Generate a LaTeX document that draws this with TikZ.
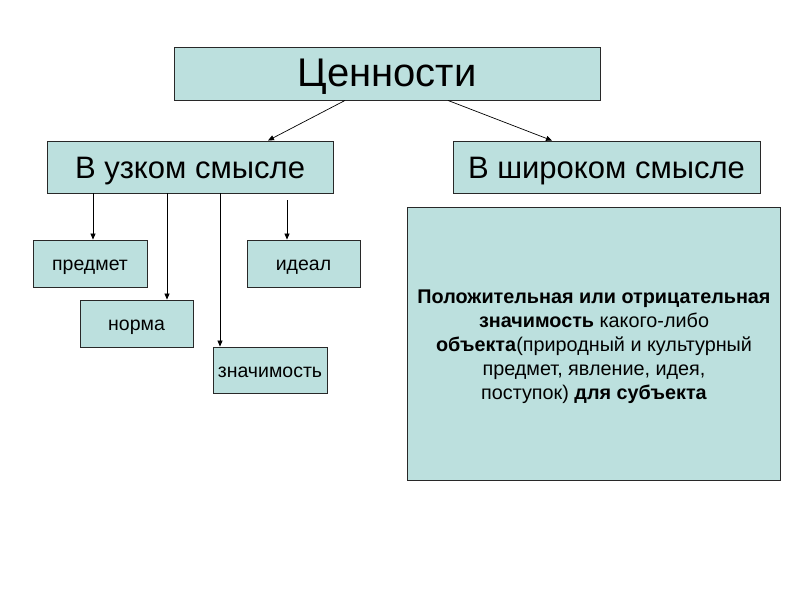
\documentclass[tikz,border=0pt]{standalone}
\usepackage{fontspec}
\setmainfont{Liberation Sans}
\usetikzlibrary{arrows.meta}
\definecolor{boxfill}{RGB}{188,224,222}
\definecolor{boxline}{RGB}{40,40,40}
\tikzset{
  box/.style={draw=boxline, line width=0.9pt, fill=boxfill, rectangle, inner sep=0pt, text depth=0pt},
  big/.style={font=\fontsize{40}{42}\selectfont, text height=26pt},
  mid/.style={font=\fontsize{31}{33}\selectfont, text height=22.2pt},
  small/.style={font=\fontsize{19.5}{21}\selectfont, text height=14pt},
  arr/.style={draw=black, line width=0.7pt, -{Triangle[length=6pt,width=5pt]}},
}
\begin{document}
\begin{tikzpicture}[x=1pt,y=-1pt]
\useasboundingbox[fill=white] (0,0) rectangle (800,600);
\node[box, big, minimum width=426pt, minimum height=53pt] (top) at (387,73.5) {Ценности};
\node[box, mid, minimum width=286pt, minimum height=52pt] (narrow) at (190,167) {В узком смысле};
\node[box, mid, minimum width=307pt, minimum height=52pt] (wide) at (606.5,167) {В широком смысле};
\node[box, small, minimum width=114pt, minimum height=47pt] (predmet) at (90,263.5) {предмет};
\node[box, small, minimum width=113pt, minimum height=47pt] (norma) at (136.5,323.5) {норма};
\node[box, small, minimum width=114pt, minimum height=46pt] (znach) at (270,370) {значимость};
\node[box, small, minimum width=113pt, minimum height=47pt] (ideal) at (303.5,263.5) {идеал};
\node[box, minimum width=373pt, minimum height=273pt] (bigbox) at (593.5,343.5) {};
\node[align=center, font=\fontsize{19.8}{24}\selectfont] (bigtext) at (594,347) {\textbf{Положительная или отрицательная}\\\textbf{значимость} какого-либо\\\textbf{объекта}(природный и культурный\\предмет, явление, идея,\\поступок) \textbf{для субъекта}};
\draw[arr] ([xshift=-42pt]top.south) -- ([xshift=78pt]narrow.north);
\draw[arr] ([xshift=61pt]top.south) -- ([xshift=-54.5pt]wide.north);
\draw[arr] ([xshift=-97pt]narrow.south) -- ([xshift=-97pt]narrow.south |- predmet.north);
\draw[arr] ([xshift=-23pt]narrow.south) -- ([xshift=-23pt]narrow.south |- norma.north);
\draw[arr] ([xshift=30pt]narrow.south) -- ([xshift=30pt]narrow.south |- znach.north);
\coordinate (ia) at (287,200);
\draw[arr] (ia) -- (ia |- ideal.north);
\end{tikzpicture}
\end{document}
